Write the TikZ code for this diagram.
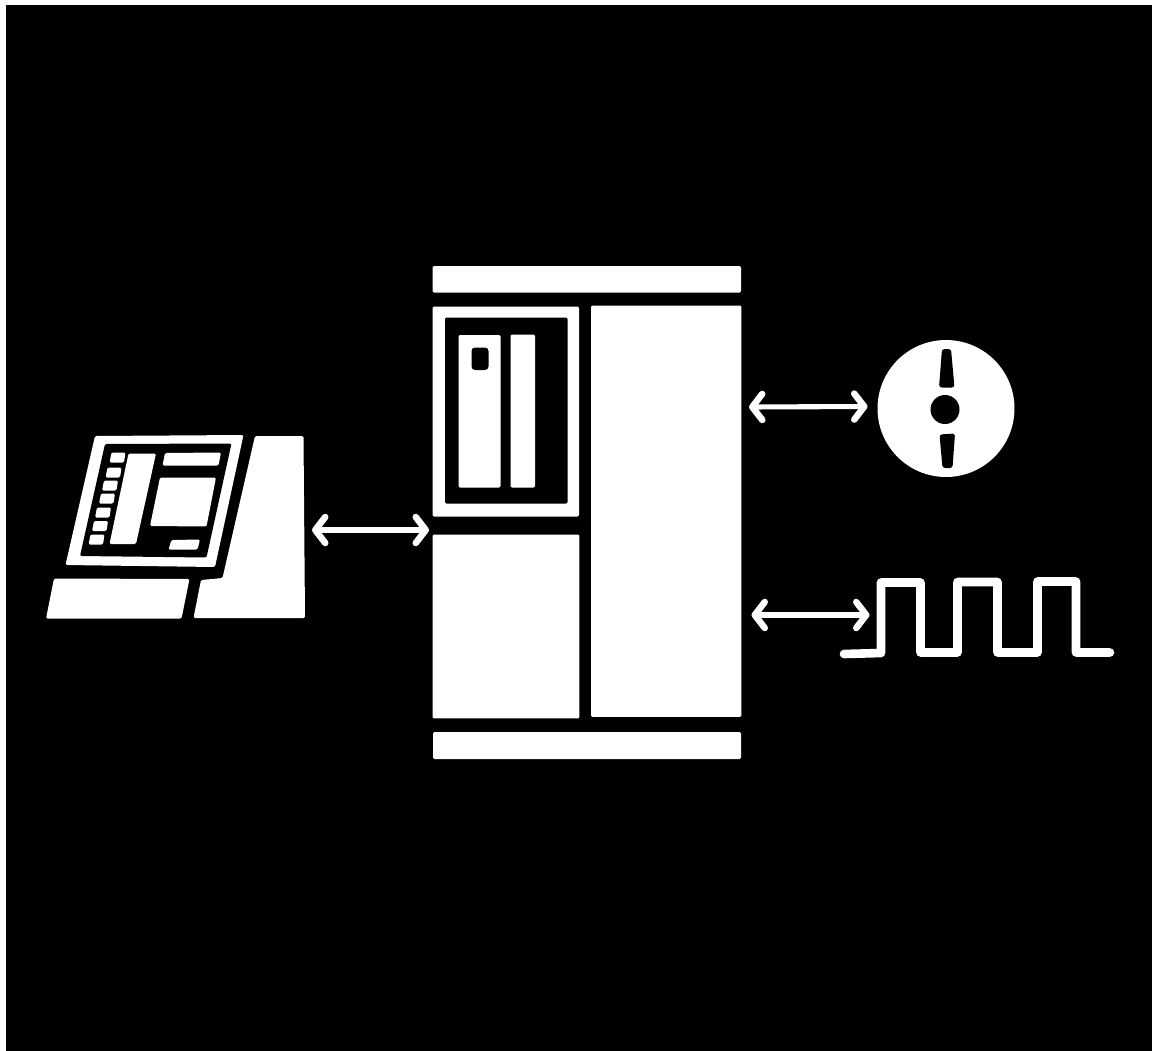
\documentclass[tikz,border=0pt]{standalone}
\usepackage{xcolor}
\usetikzlibrary{positioning,calc,arrows.meta}

\tikzset{
  panel/.style={fill=white, rounded corners=0.8pt},
  cutout/.style={fill=black, rounded corners=0.8pt},
  slab/.style={panel, inner sep=0pt, outer sep=0pt},
  link/.style={white, line width=2.9pt, line join=round,
    {Straight Barb[length=0.2cm, width=0.52cm, line width=3.7pt, round]}-{Straight Barb[length=0.2cm, width=0.52cm, line width=3.7pt, round]}},
  wave/.style={white, line width=4.9pt, line join=round, line cap=round}
}

\begin{document}
\begin{tikzpicture}[x=0.02cm, y=-0.02cm]
  \useasboundingbox (0,0) rectangle (1156,1051);
  % Sheet
  \fill[white] (0,0) rectangle (1156,1051);
  \fill[black] (6,5) rectangle (1151.5,1051);

  % Terminal: base and keyboard
  \fill[panel] (255,436) -- (303.5,436) -- (305,618) -- (193.5,618) -- (201,580) -- (222.5,578) -- cycle;
  \fill[panel] (54,578.5) -- (189.5,579) -- (181.5,618.5) -- (46,618.5) -- cycle;
  \coordinate (termport) at (312,530);

  % Terminal: screen
  \fill[panel] (95,436) -- (243.5,435) -- (215,567) -- (65.5,565) -- cycle;
  \fill[cutout] (105,444) -- (231.5,443.5) -- (206.5,557.5) -- (80,556) -- cycle;
  \fill[panel] (128.5,453.5) -- (156,453.5) -- (136,544) -- (109.5,544) -- cycle;
  \fill[panel] (165,453) -- (221,452.5) -- (218.5,465.5) -- (162.5,465.5) -- cycle;
  \fill[panel] (160,477.5) -- (216,477.5) -- (206.5,526.5) -- (150,526) -- cycle;
  \fill[panel] (171.5,540) -- (200,539.5) -- (197.5,549.5) -- (168.5,549.5) -- cycle;
  % Terminal: soft keys
  \foreach \kx/\ky in {110/453, 106/468, 102.5/481, 99.5/494, 95.5/508, 92.5/521.5, 89/535}
    \fill[panel] (\kx+1.5,\ky-0.5) -- (\kx+15.5,\ky-0.5) -- (\kx+14,\ky+9.5) -- (\kx-0.5,\ky+9.5) -- cycle;

  % Cabinet
  \fill[panel] (432.5,266) rectangle (741,292.5);
  \fill[panel] (432.5,306.5) rectangle (579,516.5);
  \fill[cutout] (445,317.5) rectangle (567.5,503.5);
  \fill[panel] (458.5,335) rectangle (500.5,487.5);
  \fill[cutout, rounded corners=2pt] (471.5,347.5) rectangle (488.5,370);
  \fill[panel] (510.5,334.5) rectangle (535,487.5);
  \node[slab, minimum width=2.94cm, minimum height=3.68cm, anchor=north west] (lowpanel) at (432.5,534.5) {};
  \node[slab, minimum width=3.01cm, minimum height=8.23cm, anchor=north west] (mainpanel) at (591,305.5) {};
  \fill[panel] (433,732) rectangle (741,759);
  \coordinate (cabinleft) at (429,530);
  \coordinate (cabdisc) at (749,407);
  \coordinate (cabwave) at (751.5,615);

  % Disc
  \node[slab, circle, minimum size=2.74cm] (disc) at (946,408.5) {};
  \fill[black] (945,409.5) circle (14.5*0.02cm);
  \fill[cutout, rounded corners=1.5pt] (942,349) -- (951,349) -- (954.5,387.5) -- (939,387.5) -- cycle;
  \fill[cutout, rounded corners=1.5pt] (939.5,434.5) -- (955,433.5) -- (952.5,468) -- (942.5,468) -- cycle;
  \coordinate (discport) at (867.5,406.5);

  % Pulse train
  \draw[wave] (844,654) -- (881,653) -- (881,582.5) -- (920.5,582.5) -- (920.5,652.5)
    -- (957.5,652.5) -- (957.5,582) -- (997.5,582) -- (997.5,652.5)
    -- (1037.5,652.5) -- (1037.5,581.5) -- (1076,581.5) -- (1076,652.5) -- (1110,652.5);
  \coordinate (waveport) at (869.5,615);

  % Links
  \draw[link] (termport) -- (cabinleft);
  \draw[link] (cabdisc) -- (discport);
  \draw[link] (cabwave) -- (waveport);
\end{tikzpicture}
\end{document}
